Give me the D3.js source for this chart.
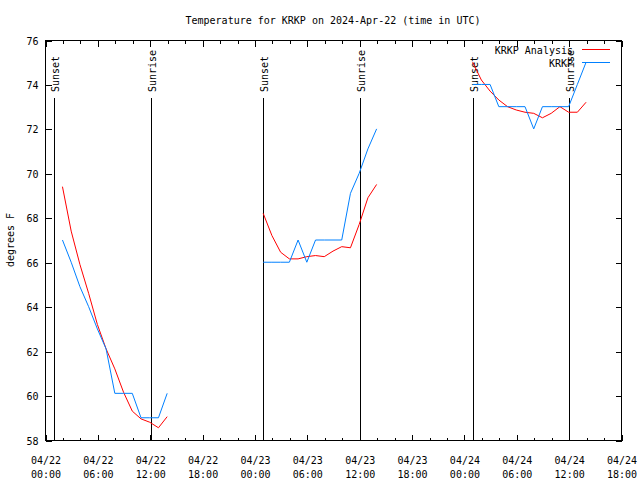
<!DOCTYPE html>
<html>
<head>
<meta charset="utf-8">
<script src="https://cdn.jsdelivr.net/npm/d3@7"></script>
<style>
  body { margin: 0; background: #fff; }
  text { font-family: "DejaVu Sans Mono", monospace; font-size: 10px; fill: #000; }
</style>
</head>
<body>
<div id="wrapper"></div>
<script>
// hours (UTC) of each run of values, one list per day
const days = ["2024-04-22", "2024-04-23", "2024-04-24"];
const dayHours = [
  [2, 3, 4, 5, 6, 7, 8, 9, 10, 11, 12, 13, 14],
  [1, 2, 3, 4, 5, 6, 7, 8, 9, 10, 11, 12, 13, 14],
  [1, 2, 3, 4, 5, 6, 7, 8, 9, 10, 11, 12, 13, 14]
];

// KRKP Analysis (red)
const analysis = [
  [69.4, 67.4, 65.9, 64.6, 63.2, 62.1, 61.2, 60.15, 59.3, 58.95, 58.8, 58.55, 59.05],
  [68.2, 67.2, 66.45, 66.15, 66.15, 66.25, 66.3, 66.25, 66.5, 66.7, 66.65, 67.7, 68.9, 69.5],
  [75.0, 74.2, 73.7, 73.3, 73.0, 72.85, 72.75, 72.7, 72.5, 72.7, 73.0, 72.75, 72.75, 73.2]
];

// KRKP observations (blue)
const observed = [
  [67.0, 66.0, 64.9, 64.0, 63.0, 62.1, 60.1, 60.1, 60.1, 59.0, 59.0, 59.0, 60.1],
  [66.0, 66.0, 66.0, 66.0, 67.0, 66.0, 67.0, 67.0, 67.0, 67.0, 69.1, 70.0, 71.1, 72.0],
  [74.0, 74.0, 74.0, 73.0, 73.0, 73.0, 73.0, 72.0, 73.0, 73.0, 73.0, 73.0, 74.0, 75.0]
];

const sunLabels = ["Sunset", "Sunrise", "Sunset", "Sunrise", "Sunset", "Sunrise"];
const sunTimes = ["2024-04-22T01:03Z", "2024-04-22T12:06Z", "2024-04-23T01:02Z",
                  "2024-04-23T12:04Z", "2024-04-24T01:01Z", "2024-04-24T12:02Z"];

const yTicks = [58, 60, 62, 64, 66, 68, 70, 72, 74, 76];
const xStart = "2024-04-22T00:00Z";
const xEnd = "2024-04-24T18:00Z";

const W = 640, H = 480;
const margin = {top: 40, right: 621, bottom: 440, left: 45};

const svg = d3.select("#wrapper").append("svg")
  .attr("width", W)
  .attr("height", H);

const x = d3.scaleUtc()
  .domain([new Date(xStart), new Date(xEnd)])
  .range([margin.left, margin.right]);

const y = d3.scaleLinear()
  .domain([58, 76])
  .range([margin.bottom, margin.top]);

const majorTicks = d3.utcHour.every(6).range(new Date(xStart), d3.utcHour.offset(new Date(xEnd), 1));
const minorTicks = d3.utcHour.every(2).range(new Date(xStart), d3.utcHour.offset(new Date(xEnd), 1));

function toRows(values) {
  return values.map((vals, i) => vals.map((v, j) => ({
    t: d3.utcHour.offset(new Date(days[i] + "T00:00Z"), dayHours[i][j]),
    v: v
  })));
}

// axes, ticks pointing inward like gnuplot
svg.append("g")
  .attr("transform", `translate(0.5,${margin.bottom + 0.5})`)
  .call(d3.axisBottom(x).tickValues(minorTicks).tickSize(-3).tickFormat(""))
  .call(g => g.select(".domain").remove());

svg.append("g")
  .attr("transform", `translate(0.5,${margin.top + 0.5})`)
  .call(d3.axisTop(x).tickValues(minorTicks).tickSize(-3).tickFormat(""))
  .call(g => g.select(".domain").remove());

svg.append("g")
  .attr("transform", `translate(0.5,${margin.top + 0.5})`)
  .call(d3.axisTop(x).tickValues(majorTicks).tickSize(-6).tickFormat(""))
  .call(g => g.select(".domain").remove());

const xAxis = svg.append("g")
  .attr("transform", `translate(0.5,${margin.bottom + 0.5})`)
  .call(d3.axisBottom(x).tickValues(majorTicks).tickSize(-6).tickPadding(0))
  .call(g => g.select(".domain").remove());

xAxis.selectAll(".tick text")
  .attr("dy", null)
  .attr("y", null)
  .text(null)
  .each(function(d) {
    const t = d3.select(this);
    t.append("tspan").attr("x", 0).attr("y", 23).text(d3.utcFormat("%m/%d")(d));
    t.append("tspan").attr("x", 0).attr("y", 37).text(d3.utcFormat("%H:%M")(d));
  });

svg.append("g")
  .attr("transform", `translate(${margin.left + 0.5},0.5)`)
  .call(d3.axisLeft(y).tickValues(yTicks).tickSize(-6).tickPadding(7))
  .call(g => g.select(".domain").remove())
  .selectAll(".tick text").attr("dy", "0.35em");

svg.append("g")
  .attr("transform", `translate(${margin.right + 0.5},0.5)`)
  .call(d3.axisRight(y).tickValues(yTicks).tickSize(-6).tickFormat(""))
  .call(g => g.select(".domain").remove());

svg.selectAll(".tick line").attr("stroke", "#000").attr("shape-rendering", "crispEdges");

svg.append("rect")
  .attr("x", margin.left + 0.5)
  .attr("y", margin.top + 0.5)
  .attr("width", margin.right - margin.left)
  .attr("height", margin.bottom - margin.top)
  .attr("fill", "none")
  .attr("stroke", "#000")
  .attr("shape-rendering", "crispEdges");

// sunrise / sunset markers
const sun = svg.append("g");
sunTimes.forEach((s, i) => {
  const sx = Math.round(x(new Date(s))) + 0.5;
  sun.append("line")
    .attr("x1", sx).attr("x2", sx)
    .attr("y1", 98).attr("y2", margin.bottom)
    .attr("stroke", "#000")
    .attr("shape-rendering", "crispEdges");
  sun.append("text")
    .attr("transform", `translate(${sx + 4},92) rotate(-90)`)
    .attr("text-anchor", "start")
    .text(sunLabels[i]);
});

const line = d3.line()
  .x(d => x(d.t))
  .y(d => y(d.v));

svg.append("g")
  .selectAll("path")
  .data(toRows(analysis))
  .join("path")
  .attr("d", line)
  .attr("fill", "none")
  .attr("stroke", "#ff0000")
  .attr("stroke-width", 1);

svg.append("g")
  .selectAll("path")
  .data(toRows(observed))
  .join("path")
  .attr("d", line)
  .attr("fill", "none")
  .attr("stroke", "#0080ff")
  .attr("stroke-width", 1);

// legend
const legendNames = ["KRKP Analysis", "KRKP"];
const legendColors = ["#ff0000", "#0080ff"];
legendNames.forEach((name, i) => {
  const ly = 49.5 + i * 13;
  svg.append("text")
    .attr("x", 573)
    .attr("y", ly + 4)
    .attr("text-anchor", "end")
    .text(name);
  svg.append("line")
    .attr("x1", 582).attr("x2", 610)
    .attr("y1", ly).attr("y2", ly)
    .attr("stroke", legendColors[i])
    .attr("shape-rendering", "crispEdges");
});

// titles
svg.append("text")
  .attr("x", 333)
  .attr("y", 24)
  .attr("text-anchor", "middle")
  .text("Temperature for KRKP on 2024-Apr-22 (time in UTC)");

svg.append("text")
  .attr("transform", `translate(14,240) rotate(-90)`)
  .attr("text-anchor", "middle")
  .text("degrees F");
</script>
</body>
</html>
